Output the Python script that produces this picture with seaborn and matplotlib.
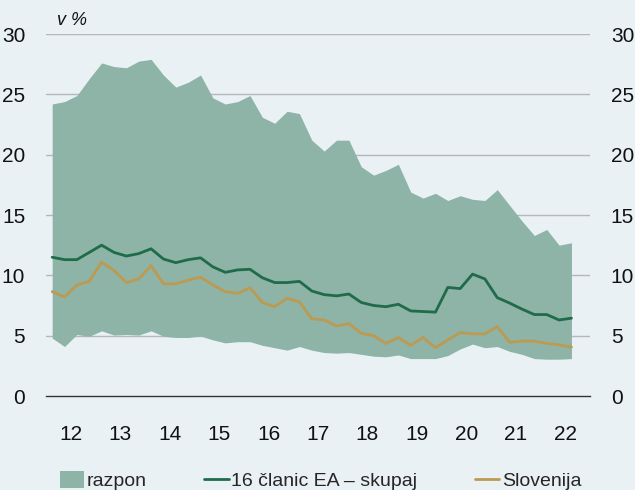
import numpy as np
import pandas as pd
import seaborn as sns
import matplotlib.pyplot as plt
from matplotlib.patches import Patch
from matplotlib.lines import Line2D

# quarterly data 2012Q1 .. 2022Q3
years = list(range(2012, 2023))
year_labels = ["12", "13", "14", "15", "16", "17", "18", "19", "20", "21", "22"]

range_upper = [24.2, 24.4, 24.9, 26.3, 27.6, 27.3, 27.2, 27.75, 27.9, 26.6,
               25.6, 26.0, 26.6, 24.7, 24.2, 24.4, 24.9, 23.1, 22.6, 23.6,
               23.4, 21.2, 20.3, 21.2, 21.2, 19.0, 18.3, 18.7, 19.2, 16.9,
               16.4, 16.8, 16.2, 16.6, 16.3, 16.2, 17.1, 15.8, 14.5, 13.3,
               13.8, 12.5, 12.7]
range_lower = [4.8, 4.1, 5.1, 4.95, 5.4, 5.05, 5.1, 5.05, 5.4, 4.95,
               4.85, 4.85, 4.97, 4.65, 4.4, 4.5, 4.5, 4.2, 4.0, 3.8,
               4.1, 3.8, 3.6, 3.55, 3.6, 3.45, 3.3, 3.25, 3.4, 3.1,
               3.1, 3.1, 3.35, 3.9, 4.3, 4.0, 4.1, 3.7, 3.45, 3.1,
               3.05, 3.05, 3.1]
ea16 = [11.5, 11.3, 11.3, 11.9, 12.5, 11.9, 11.6, 11.8, 12.2, 11.35,
        11.05, 11.3, 11.45, 10.7, 10.25, 10.45, 10.5, 9.8, 9.4, 9.4,
        9.5, 8.7, 8.4, 8.3, 8.45, 7.75, 7.5, 7.4, 7.6, 7.05,
        7.0, 6.95, 9.0, 8.9, 10.1, 9.7, 8.15, 7.7, 7.2, 6.75,
        6.75, 6.3, 6.45]
slovenia = [8.65, 8.2, 9.2, 9.5, 11.1, 10.4, 9.4, 9.7, 10.8, 9.3,
            9.3, 9.6, 9.85, 9.2, 8.65, 8.5, 8.97, 7.75, 7.4, 8.1,
            7.8, 6.4, 6.3, 5.8, 6.0, 5.2, 5.0, 4.35, 4.85, 4.2,
            4.85, 4.0, 4.65, 5.25, 5.15, 5.15, 5.75, 4.45, 4.55, 4.55,
            4.35, 4.25, 4.05]

n = len(ea16)
t = 2012 + 0.125 + 0.25 * np.arange(n)   # middle of each quarter

df = pd.DataFrame({"t": t, "lo": range_lower, "hi": range_upper,
                   "ea": ea16, "si": slovenia})

bg = "#E9F1F5"
c_fill = "#8DB4A6"
c_ea = "#1F6B4B"
c_si = "#BD9A52"

sns.set_style("white", {"axes.facecolor": bg, "figure.facecolor": bg})
plt.rcParams["font.family"] = ["Liberation Sans", "DejaVu Sans"]

fig = plt.figure(figsize=(6.35, 4.9), dpi=100)
ax = fig.add_axes([46 / 635, 94 / 490, 544 / 635, 362 / 490])
ax.set_facecolor(bg)

ax.fill_between(df["t"], df["lo"], df["hi"], color=c_fill, lw=0, zorder=2)
sns.lineplot(data=df, x="t", y="ea", color=c_ea, lw=2.0, ax=ax, zorder=3)
sns.lineplot(data=df, x="t", y="si", color=c_si, lw=2.0, ax=ax, zorder=3)

ax.set_xlim(2012, 2023)
ax.set_ylim(0, 30)
ax.set_xlabel("")
ax.set_ylabel("")

# y axis: labels both sides, gridlines
yt = [0, 5, 10, 15, 20, 25, 30]
ax.set_yticks(yt)
ax.set_yticklabels([str(v) for v in yt])
ax.tick_params(axis="y", length=0, labelsize=15, pad=15, labelcolor="#111111",
               left=True, right=True, labelleft=True, labelright=True)
for v in yt[1:]:
    ax.axhline(v, color="#B4B8BA", lw=1.0, zorder=1)

# x axis: ticks at year boundaries, labels at mid-year
ax.set_xticks(list(range(2012, 2024)))
ax.set_xticklabels([])
ax.set_xticks([y + 0.5 for y in years], minor=True)
ax.set_xticklabels(year_labels, minor=True)
ax.tick_params(axis="x", which="major", length=8, width=1.0, color="#333333", direction="out")
ax.tick_params(axis="x", which="minor", length=0, labelsize=15, pad=21, labelcolor="#111111")

for s in ["top", "left", "right"]:
    ax.spines[s].set_visible(False)
ax.spines["bottom"].set_color("#333333")
ax.spines["bottom"].set_linewidth(1.0)

fig.text(57 / 635, 1 - 25 / 490, "v %", fontsize=13, style="italic", color="#111111")

handles = [Patch(facecolor=c_fill, edgecolor="none"),
           Line2D([0], [0], color=c_ea, lw=2.0),
           Line2D([0], [0], color=c_si, lw=2.0)]
labels = ["razpon", "16 članic EA – skupaj", "Slovenija"]
fig.legend(handles, labels, loc="upper left", bbox_to_anchor=(60 / 635, 1 - 471 / 490),
           ncol=3, frameon=False, fontsize=14, handlelength=1.24, handleheight=0.95,
           handletextpad=0.15, columnspacing=2.95, borderpad=0, borderaxespad=0)

fig.savefig("out.png", dpi=100, facecolor=bg)
